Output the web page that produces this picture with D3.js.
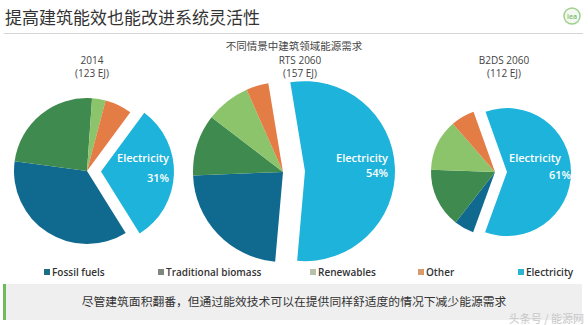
<!DOCTYPE html>
<html><head><meta charset="utf-8">
<script src="https://cdn.jsdelivr.net/npm/d3@7"></script>
<style>
html,body{margin:0;padding:0;background:#fff;}
svg{display:block;}
</style></head>
<body>
<svg id="chart" width="588" height="325"></svg>
<script>
// ---- data ----
const categories = ["Fossil fuels", "Traditional biomass", "Renewables", "Other", "Electricity"];
const scenarios = ["2014", "RTS 2060", "B2DS 2060"];
const totals = ["(123 EJ)", "(157 EJ)", "(112 EJ)"];
const share2014 = [36, 24, 3, 6, 31];
const shareRTS2060 = [23, 11, 8, 4, 54];
const shareB2DS2060 = [5, 15, 13, 6, 61];
const title = "提高建筑能效也能改进系统灵活性";
const subtitle = "不同情景中建筑领域能源需求";
const footnote = "尽管建筑面积翻番，但通过能效技术可以在提供同样舒适度的情况下减少能源需求";
const watermark = "头条号 / 能源网";

// ---- style / layout ----
const pieColors = ["#10698e", "#3f8a4e", "#8cc46c", "#e47c45", "#1db3da"];
const legendColors = ["#1c6e84", "#7d877e", "#b8c1a8", "#d69b6b", "#2ab4d3"];
const seriesList = [share2014, shareRTS2060, shareB2DS2060];
const pieLayout = [
  {cx: 87, cy: 171, r: 73, start: 148, explode: 14, labelX: 92, lx1: 117, lx2: 147, ly1: 162, ly2: 182},
  {cx: 283, cy: 172, r: 90, start: 185, explode: 22, labelX: 300, lx1: 336, lx2: 366, ly1: 162, ly2: 177},
  {cx: 495, cy: 172, r: 64, start: 200, explode: 12, labelX: 504, lx1: 509, lx2: 549, ly1: 162, ly2: 179}
];
const legendX = [44, 158, 310, 418, 518];

const font = "'Open Sans', 'Noto Sans', sans-serif";
const cjk = "'Noto Sans CJK SC', 'Noto Sans', sans-serif";
const svg = d3.select("#chart");

// title
svg.append("text").attr("x", 5).attr("y", 24)
  .attr("font-family", cjk).attr("font-size", 17).attr("fill", "#333")
  .text(title);
svg.append("line").attr("x1", 4).attr("x2", 583).attr("y1", 33.5).attr("y2", 33.5)
  .attr("stroke", "#d4d4d4").attr("stroke-width", 1.2);

// iea logo
const logo = svg.append("g").attr("transform", "translate(572,16)");
logo.append("circle").attr("r", 8).attr("fill", "#f3f9f0").attr("stroke", "#9fd08f").attr("stroke-width", 1.5);
logo.append("text").attr("y", 3).attr("text-anchor", "middle").attr("font-family", font)
  .attr("font-size", 7).attr("fill", "#7dba6c").attr("font-weight", 600).text("iea");

// subtitle
svg.append("text").attr("x", 294).attr("y", 49.5).attr("text-anchor", "middle")
  .attr("font-family", cjk).attr("font-size", 10.5).attr("fill", "#444").text(subtitle);

// pies
const toRad = Math.PI / 180;
seriesList.forEach((vals, i) => {
  const L = pieLayout[i];
  const pie = d3.pie().sort(null).value(d => d)
    .startAngle(L.start * toRad).endAngle(L.start * toRad + 2 * Math.PI);
  const arcs = pie(vals);
  const arc = d3.arc().innerRadius(0).outerRadius(L.r);
  const g = svg.append("g").attr("transform", `translate(${L.cx},${L.cy})`);
  g.selectAll("path").data(arcs).join("path")
    .attr("d", arc)
    .attr("fill", (d, j) => pieColors[j])
    .attr("transform", (d, j) => {
      if (j !== 4) return null;
      const mid = (d.startAngle + d.endAngle) / 2;
      return `translate(${Math.sin(mid) * L.explode},${-Math.cos(mid) * L.explode})`;
    });

  svg.append("text").attr("x", L.labelX).attr("y", 63.5).attr("text-anchor", "middle")
    .attr("font-family", font).attr("font-size", 10).attr("fill", "#444").text(scenarios[i]);
  svg.append("text").attr("x", L.labelX).attr("y", 76.5).attr("text-anchor", "middle")
    .attr("font-family", font).attr("font-size", 10).attr("fill", "#444").text(totals[i]);

  svg.append("text").attr("x", L.lx1).attr("y", L.ly1)
    .attr("font-family", font).attr("font-size", 11).attr("font-weight", 600)
    .attr("fill", "#fff").text(categories[4]);
  svg.append("text").attr("x", L.lx2).attr("y", L.ly2)
    .attr("font-family", font).attr("font-size", 11).attr("font-weight", 600)
    .attr("fill", "#fff").text(vals[4] + "%");
});

// legend
const lg = svg.append("g");
categories.forEach((c, i) => {
  lg.append("rect").attr("x", legendX[i]).attr("y", 269).attr("width", 6).attr("height", 6)
    .attr("fill", legendColors[i]);
  lg.append("text").attr("x", legendX[i] + 8).attr("y", 275.5)
    .attr("font-family", font).attr("font-size", 10).attr("font-weight", 600)
    .attr("fill", "#333").text(c);
});

// footnote box
svg.append("rect").attr("x", 3).attr("y", 284).attr("width", 579).attr("height", 36).attr("fill", "#efefef");
svg.append("rect").attr("x", 3).attr("y", 284).attr("width", 3).attr("height", 36).attr("fill", "#6dbb5a");
svg.append("text").attr("x", 294).attr("y", 306).attr("text-anchor", "middle")
  .attr("font-family", cjk).attr("font-size", 11.8).attr("fill", "#333").text(footnote);

// watermark
svg.append("text").attr("x", 584).attr("y", 323).attr("text-anchor", "end")
  .attr("font-family", cjk).attr("font-size", 11).attr("fill", "#c8c8c8").text(watermark);
</script>
</body></html>
